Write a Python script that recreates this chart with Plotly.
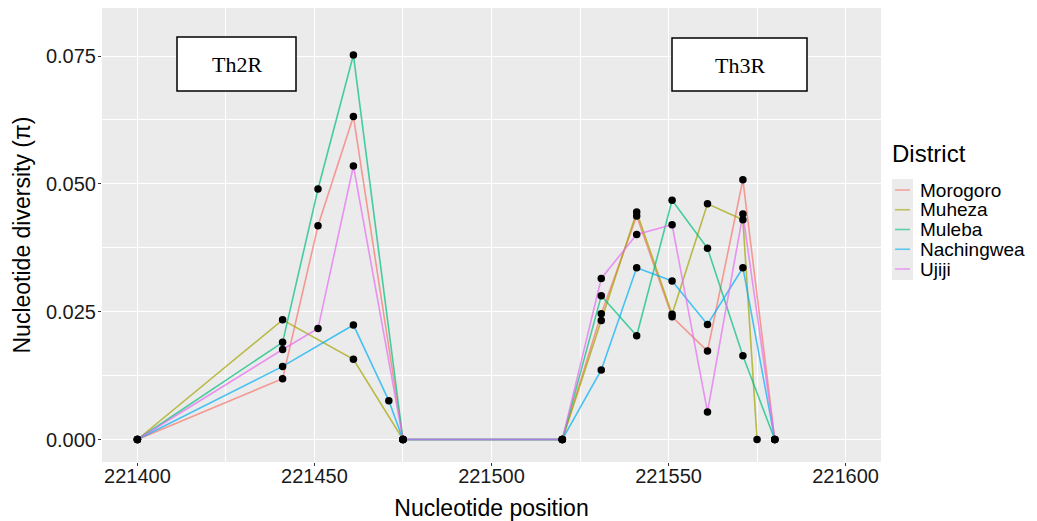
import plotly.graph_objects as go

districts = ["Morogoro", "Muheza", "Muleba", "Nachingwea", "Ujiji"]
colors = ["#F8766D", "#A3A500", "#00BF7D", "#00B0F6", "#E76BF3"]

morogoro_x = [221400, 221441, 221451, 221461, 221475, 221520, 221531, 221541, 221551, 221561, 221571, 221580]
morogoro_y = [0, 0.0119, 0.0418, 0.0632, 0, 0, 0.0246, 0.0437, 0.0240, 0.0173, 0.0508, 0]

muheza_x = [221400, 221441, 221461, 221475, 221520, 221531, 221541, 221551, 221561, 221571, 221575]
muheza_y = [0, 0.0234, 0.0157, 0, 0, 0.0233, 0.0445, 0.0245, 0.0461, 0.0430, 0]

muleba_x = [221400, 221441, 221451, 221461, 221475, 221520, 221531, 221541, 221551, 221561, 221571, 221580]
muleba_y = [0, 0.0190, 0.0490, 0.0752, 0, 0, 0.0281, 0.0203, 0.0468, 0.0374, 0.0164, 0]

nachingwea_x = [221400, 221441, 221461, 221471, 221475, 221520, 221531, 221541, 221551, 221561, 221571, 221580]
nachingwea_y = [0, 0.0143, 0.0224, 0.0076, 0, 0, 0.0136, 0.0336, 0.0310, 0.0225, 0.0336, 0]

ujiji_x = [221400, 221441, 221451, 221461, 221475, 221520, 221531, 221541, 221551, 221561, 221571, 221580]
ujiji_y = [0, 0.0176, 0.0217, 0.0535, 0, 0, 0.0315, 0.0401, 0.0420, 0.0054, 0.0441, 0]

xs = [morogoro_x, muheza_x, muleba_x, nachingwea_x, ujiji_x]
ys = [morogoro_y, muheza_y, muleba_y, nachingwea_y, ujiji_y]

x_ticks = [221400, 221450, 221500, 221550, 221600]
y_ticks = [0.0, 0.025, 0.05, 0.075]
y_tick_labels = ["0.000", "0.025", "0.050", "0.075"]

region_labels = ["Th2R", "Th3R"]

FONT = "Liberation Sans, Arial, sans-serif"

fig = go.Figure()

for name, c, x, y in zip(districts, colors, xs, ys):
    fig.add_trace(go.Scatter(x=x, y=y, mode="lines", name=name,
                             line=dict(color=c, width=1.6), opacity=0.7,
                             showlegend=False, hoverinfo="skip"))
for name, x, y in zip(districts, xs, ys):
    fig.add_trace(go.Scatter(x=x, y=y, mode="markers", name=name,
                             marker=dict(color="black", size=7.5),
                             showlegend=False))

# plot area in pixels: left 102, right 881, top 8, bottom 462
W, H = 1037, 521
L, R, T, B = 102, 881, 8, 462
pw, ph = R - L, B - T


def px(xp):
    return (xp - L) / pw


def py(yp):
    return (B - yp) / ph


shapes = []
annotations = []

# Region boxes
boxes = [(177, 296, 37, 91), (672, 807, 38, 91)]
for (x0, x1, y0, y1), lab in zip(boxes, region_labels):
    shapes.append(dict(type="rect", xref="paper", yref="paper",
                       x0=px(x0), x1=px(x1), y0=py(y1), y1=py(y0),
                       line=dict(color="black", width=1.5), fillcolor="white", layer="above"))
    annotations.append(dict(xref="paper", yref="paper", x=px((x0 + x1) / 2), y=py((y0 + y1) / 2 + 1),
                            text=lab, showarrow=False, xanchor="center", yanchor="middle",
                            font=dict(family="Liberation Serif, Times New Roman, serif", size=22, color="black")))

# Manual legend
annotations.append(dict(xref="paper", yref="paper", x=px(890), y=py(153), text="District",
                        showarrow=False, xanchor="left", yanchor="middle",
                        font=dict(family=FONT, size=24, color="black")))
shapes.append(dict(type="rect", xref="paper", yref="paper", x0=px(892), x1=px(913),
                   y0=py(280), y1=py(179), line=dict(width=0), fillcolor="#EBEBEB", layer="below"))
row0, dy = 190, 19.75
for i, (name, c) in enumerate(zip(districts, colors)):
    yc = row0 + i * dy
    shapes.append(dict(type="line", xref="paper", yref="paper", x0=px(895), x1=px(910),
                       y0=py(yc), y1=py(yc), line=dict(color=c, width=1.6), opacity=0.6))
    annotations.append(dict(xref="paper", yref="paper", x=px(918), y=py(yc), text=name,
                            showarrow=False, xanchor="left", yanchor="middle",
                            font=dict(family=FONT, size=19, color="black")))

fig.update_layout(
    width=W, height=H,
    margin=dict(l=L, r=W - R, t=T, b=H - B, autoexpand=False),
    paper_bgcolor="white", plot_bgcolor="#EBEBEB",
    showlegend=False,
    shapes=shapes, annotations=annotations,
    font=dict(family=FONT, color="black"),
)
fig.update_xaxes(range=[221390, 221610], tickvals=x_ticks, ticktext=[str(v) for v in x_ticks],
                 automargin=False, ticklabelstandoff=-7,
                 showgrid=True, gridcolor="white", gridwidth=1.2, zeroline=False,
                 minor=dict(dtick=25, tick0=221375, showgrid=True, gridcolor="white", gridwidth=0.5),
                 ticks="outside", ticklen=3, tickcolor="#333333", tickwidth=1,
                 tickfont=dict(size=20, color="#1a1a1a", family=FONT),
                 title=dict(text="Nucleotide position", font=dict(size=23, color="black", family=FONT), standoff=22),
                 showline=False)
fig.update_yaxes(range=[-0.0044, 0.0844], tickvals=y_ticks, ticktext=y_tick_labels,
                 automargin=False, ticklabelstandoff=-2,
                 showgrid=True, gridcolor="white", gridwidth=1.2, zeroline=False,
                 minor=dict(dtick=0.0125, tick0=0, showgrid=True, gridcolor="white", gridwidth=0.5),
                 ticks="outside", ticklen=3, tickcolor="#333333", tickwidth=1,
                 tickfont=dict(size=20, color="#1a1a1a", family=FONT),
                 title=dict(text="Nucleotide diversity (π)", font=dict(size=23, color="black", family=FONT), standoff=8),
                 showline=False)

fig.write_html("out.html")
